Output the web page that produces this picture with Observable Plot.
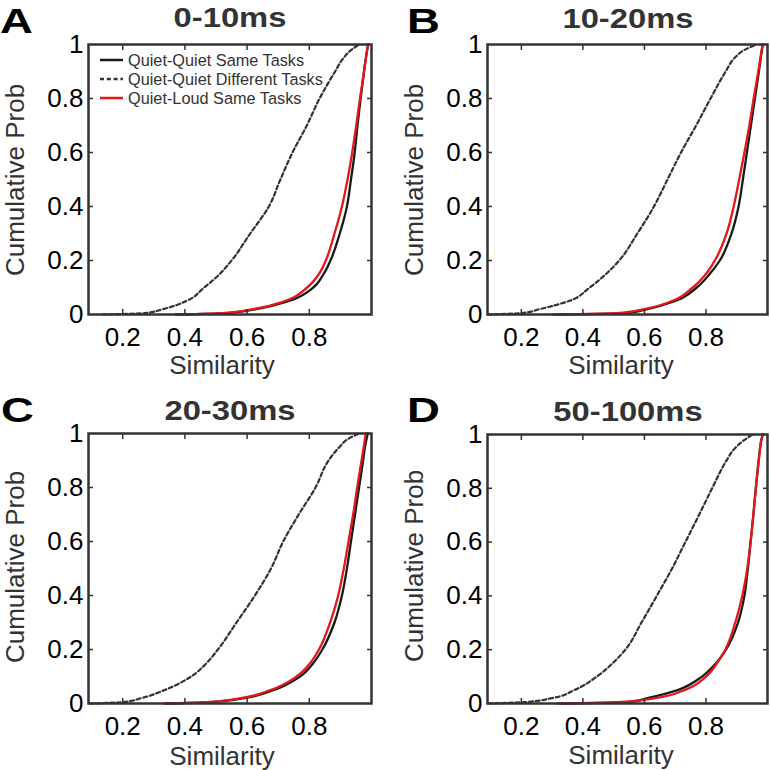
<!DOCTYPE html>
<html><head><meta charset="utf-8">
<script src="https://cdn.jsdelivr.net/npm/d3@7"></script>
<script src="https://cdn.jsdelivr.net/npm/@observablehq/plot@0.6"></script>
<style>
html,body{margin:0;padding:0;background:#fff;}
#root{position:relative;width:770px;height:770px;overflow:hidden;font-family:"Liberation Sans",Arial,sans-serif;}
.panel{position:absolute;width:385px;height:385px;}
.panel svg{position:absolute;left:0;top:0;}
</style></head><body><div id="root"></div>
<script>
// ---------- data ----------
const cumProb = [0, 0.005, 0.02, 0.05, 0.1, 0.15, 0.2, 0.3, 0.4, 0.5, 0.6, 0.7, 0.8, 0.9, 0.95, 0.98, 1];
const xTicks = [0.2, 0.4, 0.6, 0.8];
const yTicks = [0, 0.2, 0.4, 0.6, 0.8, 1];
const panelLetters = ["A", "B", "C", "D"];
const panelTitles = ["0-10ms", "10-20ms", "20-30ms", "50-100ms"];
const seriesNames = ["Quiet-Quiet Same Tasks", "Quiet-Quiet Different Tasks", "Quiet-Loud Same Tasks"];
const xLabel = "Similarity";
const yLabel = "Cumulative Prob";

// Similarity value at each cumulative probability level
const sameA = [0.37, 0.53, 0.63, 0.735, 0.813, 0.846, 0.868, 0.898, 0.921, 0.934, 0.946, 0.955, 0.965, 0.976, 0.982, 0.986, 0.989];
const diffA = [0.135, 0.27, 0.33, 0.405, 0.462, 0.512, 0.55, 0.61, 0.67, 0.707, 0.746, 0.792, 0.833, 0.883, 0.91, 0.935, 0.96];
const loudA = [0.386, 0.52, 0.62, 0.722, 0.793, 0.831, 0.853, 0.881, 0.905, 0.923, 0.938, 0.951, 0.963, 0.976, 0.982, 0.986, 0.989];

const sameB = [0.32, 0.54, 0.61, 0.70, 0.77, 0.812, 0.845, 0.883, 0.906, 0.92, 0.933, 0.946, 0.959, 0.972, 0.978, 0.982, 0.985];
const diffB = [0.09, 0.2, 0.26, 0.355, 0.422, 0.475, 0.518, 0.577, 0.631, 0.675, 0.719, 0.768, 0.815, 0.864, 0.893, 0.925, 0.965];
const loudB = [0.30, 0.51, 0.60, 0.69, 0.757, 0.80, 0.829, 0.867, 0.89, 0.908, 0.925, 0.941, 0.955, 0.97, 0.977, 0.981, 0.985];

const sameC = [0.34, 0.48, 0.59, 0.686, 0.77, 0.813, 0.842, 0.881, 0.905, 0.921, 0.934, 0.947, 0.96, 0.973, 0.979, 0.984, 0.988];
const diffC = [0.093, 0.2, 0.26, 0.335, 0.42, 0.47, 0.506, 0.566, 0.625, 0.677, 0.716, 0.766, 0.82, 0.862, 0.897, 0.925, 0.96];
const loudC = [0.334, 0.47, 0.58, 0.675, 0.759, 0.803, 0.831, 0.867, 0.893, 0.911, 0.926, 0.941, 0.954, 0.968, 0.975, 0.979, 0.982];

const sameD = [0.33, 0.55, 0.61, 0.708, 0.787, 0.833, 0.865, 0.904, 0.925, 0.936, 0.945, 0.954, 0.962, 0.971, 0.976, 0.98, 0.985];
const diffD = [0.092, 0.21, 0.30, 0.372, 0.445, 0.497, 0.538, 0.59, 0.64, 0.689, 0.733, 0.777, 0.82, 0.865, 0.895, 0.925, 0.952];
const loudD = [0.318, 0.51, 0.635, 0.73, 0.80, 0.836, 0.863, 0.895, 0.918, 0.934, 0.945, 0.954, 0.962, 0.971, 0.976, 0.98, 0.985];

const sameAll = [sameA, sameB, sameC, sameD];
const diffAll = [diffA, diffB, diffC, diffD];
const loudAll = [loudA, loudB, loudC, loudD];

// ---------- layout ----------
const layouts = [
  {left: 0,   top: 0,   ml: 88,  mr: 14, mt: 44, mb: 71, letterX: 0,  letterY: 33, titleX: 230, titleY: 27, xlabX: 222, xlabY: 374, ylabX: 24, ylabY: 180},
  {left: 385, top: 0,   ml: 102, mr: 3,  mt: 44, mb: 71, letterX: 22, letterY: 33, titleX: 243, titleY: 28, xlabX: 236, xlabY: 374, ylabX: 38, ylabY: 180},
  {left: 0,   top: 385, ml: 88,  mr: 14, mt: 48, mb: 67, letterX: 1,  letterY: 37, titleX: 230, titleY: 35, xlabX: 222, xlabY: 380, ylabX: 24, ylabY: 182},
  {left: 385, top: 385, ml: 102, mr: 3,  mt: 49, mb: 67, letterX: 22, letterY: 37, titleX: 243, titleY: 36, xlabX: 236, xlabY: 379, ylabX: 38, ylabY: 181}
];

const RED = "#e3171c";
const root = document.getElementById("root");
const NS = "http://www.w3.org/2000/svg";
function el(tag, attrs, text) {
  const e = document.createElementNS(NS, tag);
  for (const k in attrs) e.setAttribute(k, attrs[k]);
  if (text != null) e.textContent = text;
  return e;
}

layouts.forEach((L, i) => {
  const rows = xs => xs.map((x, k) => ({x, p: cumProb[k]}));
  const tickStyle = {label: null, tickFormat: () => "", tickSize: 5, stroke: "#333", strokeWidth: 1.5};
  const lineOpts = {x: "x", y: "p", curve: "monotone-y", strokeWidth: 2.3};
  const chart = Plot.plot({
    width: 385, height: 385,
    marginLeft: L.ml, marginRight: L.mr, marginTop: L.mt, marginBottom: L.mb,
    style: {fontFamily: '"Liberation Sans", Arial, sans-serif', fontSize: "26px", color: "#000", background: "transparent", overflow: "visible"},
    x: {domain: [0.09, 1], label: null},
    y: {domain: [0, 1], label: null},
    marks: [
      Plot.line(rows(diffAll[i]), {...lineOpts, stroke: "#333", strokeWidth: 2.2, strokeDasharray: "4,2.8"}),
      Plot.line(rows(sameAll[i]), {...lineOpts, stroke: "#1a1a1a"}),
      Plot.line(rows(loudAll[i]), {...lineOpts, stroke: RED}),
      Plot.axisX({anchor: "bottom", ticks: xTicks, tickSize: 0, tickPadding: 13, label: null, fill: "#000", tickFormat: d => String(d)}),
      Plot.axisY({anchor: "left", ticks: yTicks, tickSize: 0, tickPadding: 5, label: null, fill: "#000", tickFormat: d => String(d)}),
      Plot.axisX({anchor: "bottom", ticks: xTicks, dy: -5, ...tickStyle}),
      Plot.axisX({anchor: "top", ticks: xTicks, dy: 5, ...tickStyle}),
      Plot.axisY({anchor: "left", ticks: yTicks.slice(1, -1), dx: 5, ...tickStyle}),
      Plot.axisY({anchor: "right", ticks: yTicks.slice(1, -1), dx: -5, ...tickStyle}),
      Plot.frame({stroke: "#333", strokeWidth: 2.5})
    ]
  });
  const div = document.createElement("div");
  div.className = "panel";
  div.style.left = L.left + "px";
  div.style.top = L.top + "px";
  div.appendChild(chart);

  const ov = el("svg", {width: 385, height: 385, viewBox: "0 0 385 385"});
  ov.style.overflow = "visible";
  ov.style.pointerEvents = "none";
  const ff = '"Liberation Sans", Arial, sans-serif';
  ov.appendChild(el("text", {transform: `translate(${L.letterX},${L.letterY}) scale(1.3,1)`, "font-family": ff, "font-weight": "bold", "font-size": 35, fill: "#000"}, panelLetters[i]));
  ov.appendChild(el("text", {transform: `translate(${L.titleX},${L.titleY}) scale(1.17,1)`, "text-anchor": "middle", "font-family": ff, "font-weight": "bold", "font-size": 28, fill: "#333"}, panelTitles[i]));
  ov.appendChild(el("text", {x: L.xlabX, y: L.xlabY, "text-anchor": "middle", "font-family": ff, "font-size": 26, fill: "#333"}, xLabel));
  ov.appendChild(el("text", {transform: `translate(${L.ylabX},${L.ylabY}) rotate(-90)`, "text-anchor": "middle", "font-family": ff, "font-size": 26, fill: "#333"}, yLabel));
  if (i === 0) {
    const styles = [
      {stroke: "#1a1a1a", dash: null},
      {stroke: "#333", dash: "4,2.8"},
      {stroke: RED, dash: null}
    ];
    seriesNames.forEach((name, k) => {
      const by = 66 + k * 19;
      const ln = el("line", {x1: 100, x2: 123, y1: by - 6, y2: by - 6, stroke: styles[k].stroke, "stroke-width": 2.5});
      if (styles[k].dash) ln.setAttribute("stroke-dasharray", styles[k].dash);
      ov.appendChild(ln);
      ov.appendChild(el("text", {x: 128, y: by, "font-family": ff, "font-size": 16.3, fill: "#333"}, name));
    });
  }
  div.appendChild(ov);
  root.appendChild(div);
});
</script>
</body></html>
